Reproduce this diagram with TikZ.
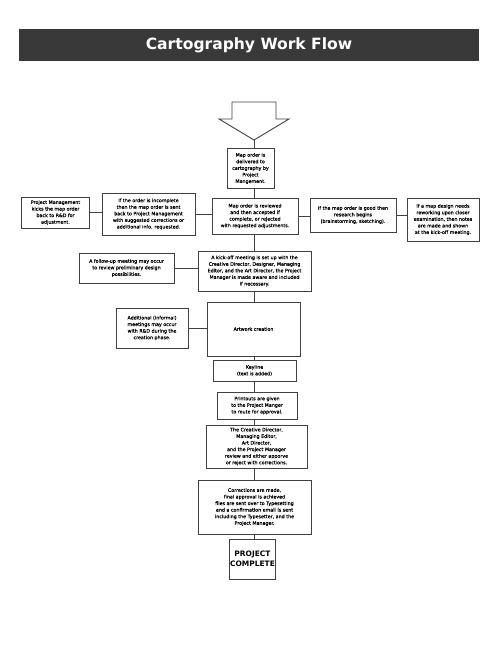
\documentclass[tikz,border=0pt]{standalone}
\usepackage{fontspec}
\setmainfont{DejaVu Sans}
\newfontfamily\boxfont{DejaVu Sans}[FakeBold=0.4]
\usetikzlibrary{positioning}
\definecolor{barGray}{HTML}{393939}
\definecolor{lineGray}{HTML}{404040}

\begin{document}
\begin{tikzpicture}[x=1bp,y=-1bp,line width=1bp,
  box/.style={draw=lineGray,fill=white,align=center,inner sep=1bp,
    font=\boxfont\fontsize{4.8}{6.6}\selectfont},
  link/.style={draw=lineGray}]
\useasboundingbox (0,0) rectangle (500,647);

% title bar
\node[fill=barGray,minimum width=460bp,minimum height=32bp,text=white,
  font=\bfseries\fontsize{15.6}{18}\selectfont] (title) at (249,45) {Cartography Work Flow};

% block arrow at the top
\draw[lineGray,line width=0.9bp] (232,102) -- (276,102) -- (276,119) -- (289,119) -- (254,140)
  -- (219,119) -- (232,119) -- cycle;
\coordinate (tip) at (254,140);

% main column
\node[box,minimum width=47bp,minimum height=39bp] (deliv) at (250.5,168.5)
  {Map order is\\delivered to\\cartography by\\Project\\Mangement.};
\node[box,minimum width=86bp,minimum height=36bp] (review) at (255,216)
  {Map order is reviewed\\and then accepted if\\complete, or rejected\\with requested adjustments.};
\node[box,minimum width=113bp,minimum height=40bp] (kickoff) at (254.5,271)
  {A kick-off meeting is set up with the\\Creative Director, Designer, Managing\\Editor, and the Art Director, the Project\\Manager is made aware and included\\if necessary.};
\node[box,minimum width=93bp,minimum height=54bp] (artwork) at (253.5,329) {Artwork creation};
\node[box,minimum width=83bp,minimum height=21bp] (keyline) at (254.5,370.5) {Keyline\\(text is added)};
\node[box,minimum width=80bp,minimum height=27bp] (print) at (257,405.5)
  {Printouts are given\\to the Project Manger\\to route for approval.};
\node[box,minimum width=101bp,minimum height=43bp] (approve) at (256.5,446.5)
  {The Creative Director,\\Managing Editor,\\Art Director,\\and the Project Manager\\review and either apporve\\or reject with corrections.};
\node[box,minimum width=113bp,minimum height=54bp] (final) at (254.5,507)
  {Corrections are made,\\final approval is achieved\\files are sent over to Typesetting\\and a confirmation email is sent\\including the Typesetter, and the\\Project Manager.};
\node[box,minimum width=41bp,minimum height=40bp,
  font=\bfseries\fontsize{7.5}{9.5}\selectfont] (done) at (252.5,559) {PROJECT\\COMPLETE};

% side boxes
\node[box,minimum width=86bp,minimum height=34bp] (good) at (353,215)
  {If the map order is good then\\research begins\\(brainstorming, sketching).};
\node[box,minimum width=72bp,minimum height=43bp] (rework) at (443,219.5)
  {If a map design needs\\reworking upon closer\\examination, then notes\\are made and shown\\at the kick-off meeting.};
\node[box,minimum width=93bp,minimum height=42bp] (incompl) at (148.5,214)
  {If the order is  incomplete\\then the map order is sent\\back to Project  Management\\with suggested corrections or\\additional info. requested.};
\node[box,minimum width=67bp,minimum height=31bp] (pm) at (55.5,212.5)
  {Project Management\\kicks the map order\\back to R\&D for\\adjustment.};
\node[box,minimum width=95bp,minimum height=30bp] (follow) at (126.5,268)
  {A follow-up meeting may occur\\to review preliminary design\\possibilities.};
\node[box,minimum width=72bp,minimum height=40bp] (extra) at (152,328)
  {Additional (informal)\\meetings may occur\\with R\&D during the\\creation phase.};

% connectors down the spine
\path[link] (tip) -- (deliv.north -| tip)
  (deliv.south -| tip) -- (review.north -| tip)
  (review.south -| tip) -- (kickoff.north -| tip)
  (kickoff.south -| tip) -- (artwork.north -| tip)
  (artwork.south -| tip) -- (keyline.north -| tip)
  (keyline.south -| tip) -- (print.north -| tip)
  (print.south -| tip) -- (approve.north -| tip)
  (approve.south -| tip) -- (final.north -| tip)
  (final.south -| tip) -- (done.north -| tip);

% side connectors
\path[link] (review.east) -- (review.east -| good.west)
  (good.east) -- (good.east -| rework.west)
  (incompl.east) -- (incompl.east -| review.west)
  (pm.east) -- (pm.east -| incompl.west)
  (follow.east) -- (follow.east -| kickoff.west)
  (extra.east) -- (extra.east -| artwork.west);
\end{tikzpicture}
\end{document}
